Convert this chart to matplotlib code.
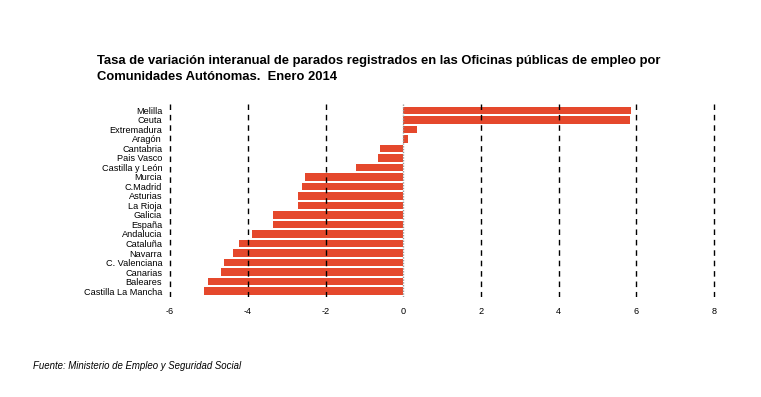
import matplotlib.pyplot as plt
import numpy as np

plt.rcParams['font.family'] = ['Liberation Sans', 'DejaVu Sans']

# Comunidades (de abajo a arriba) y tasa de variación interanual (%)
regiones = ['Castilla La Mancha', 'Baleares', 'Canarias', 'C. Valenciana', 'Navarra',
            'Cataluña', 'Andalucia', 'España', 'Galicia', 'La Rioja', 'Asturias',
            'C.Madrid', 'Murcia', 'Castilla y León', 'Pais Vasco', 'Cantabria',
            'Aragón', 'Extremadura', 'Ceuta', 'Melilla']
tasas = [-5.12, -5.02, -4.68, -4.61, -4.37, -4.22, -3.89, -3.35, -3.35, -2.70, -2.70,
         -2.60, -2.52, -1.21, -0.64, -0.59, 0.12, 0.35, 5.83, 5.86]
marcas_x = [-6, -4, -2, 0, 2, 4, 6, 8]

fig = plt.figure(figsize=(7.61, 3.97), dpi=100)
ax = fig.add_axes([165 / 761, 1 - 297 / 397, (720 - 165) / 761, (297 - 104) / 397])

y = np.arange(len(regiones))
ax.barh(y, tasas, height=0.82, color='#E5482C', zorder=2)

# lineas verticales discontinuas por encima de las barras
for t in marcas_x:
    if t == 0:
        ax.axvline(0, color='#999999', lw=1, ls=(0, (1, 1)), zorder=3)
    else:
        ax.axvline(t, color='black', lw=1, ls=(0, (4, 3.5)), zorder=3)

ax.set_xlim(-6.13, 8.15)
ax.set_ylim(-0.63, 19.68)
ax.set_yticks(y)
ax.set_yticklabels(regiones, fontsize=6.6)
ax.set_xticks(marcas_x)
ax.set_xticklabels([str(t) for t in marcas_x], fontsize=6.6)
ax.tick_params(length=0, pad=2)
ax.tick_params(axis='x', pad=7)
for s in ax.spines.values():
    s.set_visible(False)

fig.text(97 / 761, 1 - 55 / 397,
         'Tasa de variación interanual de parados registrados en las Oficinas públicas de empleo por\n'
         'Comunidades Autónomas.  Enero 2014',
         fontsize=9.35, fontweight='bold', va='top', ha='left', linespacing=1.45)
fig.text(33 / 761, 1 - 366 / 397, 'Fuente: Ministerio de Empleo y Seguridad Social',
         fontsize=6.9, style='italic', va='center', ha='left')

fig.savefig('out.png', dpi=100)
